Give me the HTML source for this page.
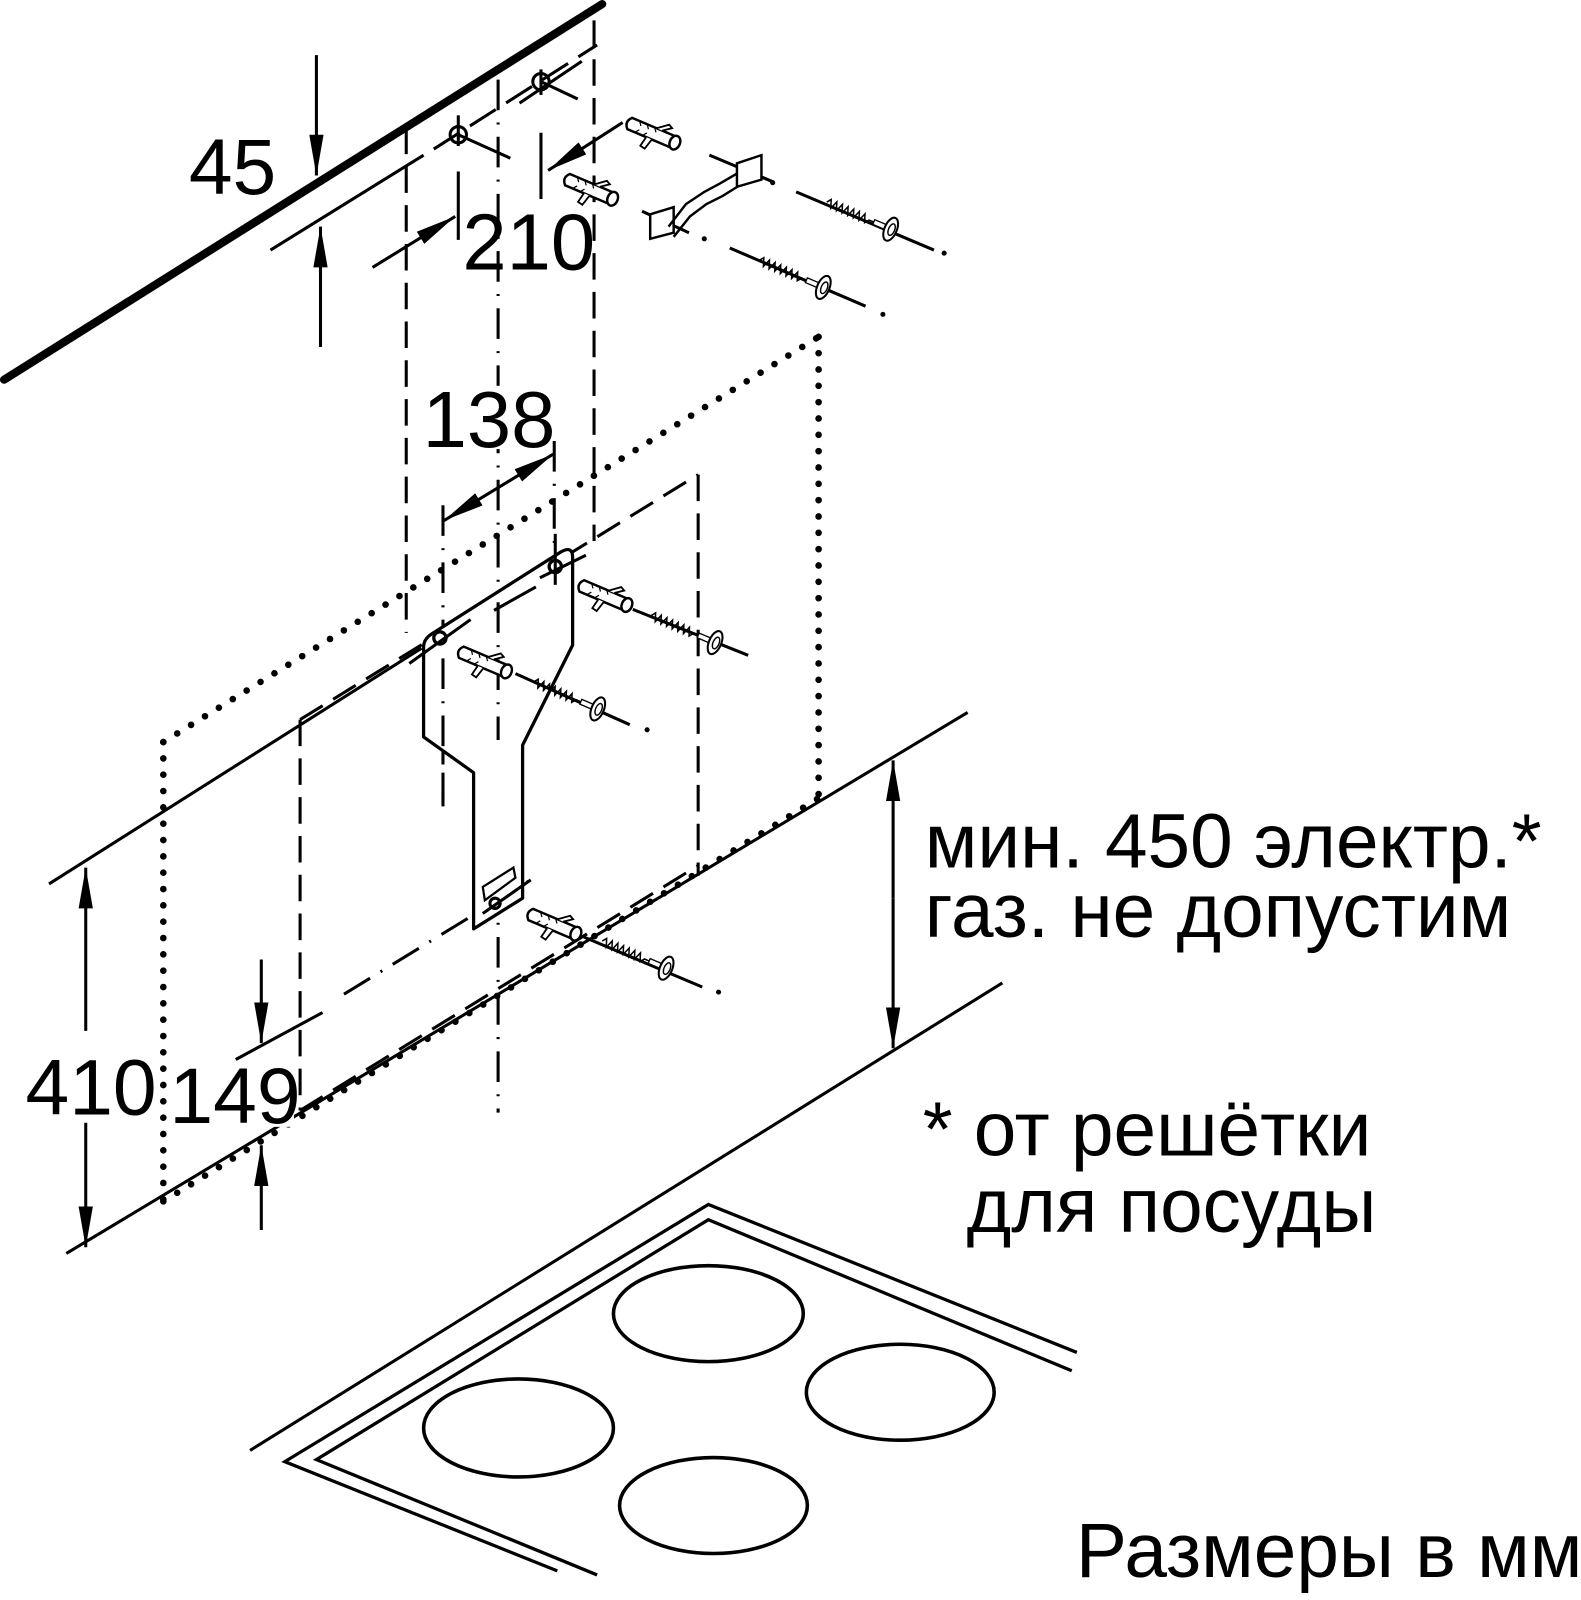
<!DOCTYPE html>
<html><head><meta charset="utf-8"><style>
html,body{margin:0;padding:0;background:#fff;}
svg{display:block;}
text{font-family:"Liberation Sans",Arial,sans-serif;fill:#000;}
</style></head><body>
<svg width="1581" height="1600" viewBox="0 0 1581 1600" xmlns="http://www.w3.org/2000/svg">
<defs>
<marker id="ah" viewBox="0 0 40 14" refX="40" refY="7" markerWidth="40" markerHeight="14" markerUnits="userSpaceOnUse" orient="auto"><path d="M0,0 L40,7 L0,14 Z" fill="#000"/></marker>
<marker id="ahs" viewBox="0 0 40 14" refX="0" refY="7" markerWidth="40" markerHeight="14" markerUnits="userSpaceOnUse" orient="auto"><path d="M40,0 L0,7 L40,14 Z" fill="#000"/></marker>
<g id="anchor">
<path d="M0,-6 L46,-6 L46,6 L0,6 Q-6,0 0,-6 Z" fill="#fff" stroke="#000" stroke-width="2.4"/>
<path d="M8,-6 L11,-2 M16,-6 L19,-2 M24,-6 L27,-2 M8,6 L11,2 M16,6 L19,2" stroke="#000" stroke-width="1.2"/>
<path d="M26,-6 L36,-14 L40,-12 L32,-6 M20,6 L18,16 L23,17 L26,6" fill="#fff" stroke="#000" stroke-width="1.8"/>
<ellipse cx="48" cy="0" rx="5" ry="7" fill="#fff" stroke="#000" stroke-width="2.4"/>
</g>
<g id="thread"><path d="M0,0 l3,-4 l3,8 l3,-8 l3,8 l3,-8 l3,8 l3,-8 l3,8 l3,-8 l3,8 l3,-8 l3,8 l3,-8 l3,8 l3,-4 L52,0" fill="none" stroke="#000" stroke-width="1.5"/>
<rect x="50" y="-2.5" width="14" height="5" fill="#fff" stroke="#000" stroke-width="1.3"/>
<ellipse cx="68" cy="0" rx="6" ry="12" fill="#fff" stroke="#000" stroke-width="2"/>
<ellipse cx="69" cy="0" rx="3" ry="6" fill="#fff" stroke="#000" stroke-width="1.4"/>
</g>
</defs>
<g transform="scale(1.0207)">
<line x1="4" y1="372" x2="590" y2="4" stroke="#000" stroke-width="8" stroke-linecap="round"/>
<line x1="265" y1="245" x2="415" y2="152" stroke="#000" stroke-width="3"/>
<line x1="425" y1="146" x2="585" y2="44" stroke="#000" stroke-width="3" stroke-dasharray="30 12"/>
<line x1="509" y1="101" x2="570" y2="60" stroke="#000" stroke-width="3"/>
<circle cx="449" cy="132" r="8" fill="none" stroke="#000" stroke-width="3"/>
<circle cx="530" cy="80" r="8" fill="none" stroke="#000" stroke-width="3"/>
<line x1="449" y1="132" x2="500" y2="155" stroke="#000" stroke-width="3"/>
<line x1="530" y1="80" x2="566" y2="97" stroke="#000" stroke-width="3"/>
<line x1="449" y1="113" x2="449" y2="143" stroke="#000" stroke-width="3"/>
<line x1="530" y1="68" x2="530" y2="93" stroke="#000" stroke-width="3"/>
<line x1="449" y1="168" x2="449" y2="235" stroke="#000" stroke-width="3"/>
<line x1="530" y1="130" x2="530" y2="195" stroke="#000" stroke-width="3"/>

<line x1="310" y1="54" x2="310" y2="172" stroke="#000" stroke-width="3" marker-end="url(#ah)"/>
<line x1="314" y1="340" x2="314" y2="222" stroke="#000" stroke-width="3" marker-end="url(#ah)"/>
<text x="185" y="190" font-size="77">45</text>

<line x1="365" y1="262" x2="446" y2="212" stroke="#000" stroke-width="3" marker-end="url(#ah)"/>
<line x1="610" y1="120" x2="537" y2="167" stroke="#000" stroke-width="3" marker-end="url(#ah)"/>
<rect x="455" y="206" width="122" height="60" fill="#fff"/>
<text x="453" y="264" font-size="78">210</text>

<line x1="398" y1="125" x2="398" y2="620" stroke="#000" stroke-width="3" stroke-dasharray="26 12"/>
<line x1="582" y1="20" x2="582" y2="530" stroke="#000" stroke-width="3" stroke-dasharray="26 12"/>
<line x1="488" y1="78" x2="488" y2="1090" stroke="#000" stroke-width="3" stroke-dasharray="30 12 2 12"/>
<line x1="434" y1="495" x2="434" y2="790" stroke="#000" stroke-width="3" stroke-dasharray="30 12 2 12"/>
<line x1="543" y1="432" x2="543" y2="590" stroke="#000" stroke-width="3" stroke-dasharray="30 12 2 12"/>

<rect x="412" y="378" width="125" height="62" fill="#fff"/>
<text x="414" y="438" font-size="78">138</text>
<line x1="435" y1="510" x2="542" y2="445" stroke="#000" stroke-width="3" marker-start="url(#ahs)" marker-end="url(#ah)"/>

<g stroke="#000" stroke-width="6.5" stroke-linecap="round" stroke-dasharray="0 16" fill="none">
<line x1="160" y1="727" x2="802" y2="330"/>
<line x1="802" y1="330" x2="802" y2="782"/>
<line x1="160" y1="727" x2="160" y2="1177"/>
<line x1="160" y1="1177" x2="802" y2="782"/>
</g>
<g stroke="#000" stroke-width="3" stroke-dasharray="26 12" fill="none">
<line x1="294" y1="705" x2="684" y2="465"/>
<line x1="684" y1="465" x2="684" y2="858"/>
<line x1="294" y1="705" x2="294" y2="1088"/>
<line x1="294" y1="1088" x2="684" y2="848"/>
</g>

<line x1="48" y1="866" x2="413" y2="635" stroke="#000" stroke-width="3"/>
<line x1="948" y1="698" x2="65" y2="1228" stroke="#000" stroke-width="3"/>
<line x1="982" y1="963" x2="245" y2="1421" stroke="#000" stroke-width="3"/>

<line x1="231" y1="1038" x2="316" y2="992" stroke="#000" stroke-width="3"/>
<line x1="337" y1="974" x2="520" y2="862" stroke="#000" stroke-width="3" stroke-dasharray="30 12 2 12"/>

<path d="M415,722 L415,634 Q415,626 423,621 L549,541 Q561,534 561,546 L561,632 L512,730 L512,880 L464,910 L464,757 Z" fill="#fff" stroke="#000" stroke-width="3.2" stroke-linejoin="round"/>
<line x1="484" y1="598" x2="525" y2="575" stroke="#000" stroke-width="3"/>
<line x1="488" y1="590" x2="488" y2="725" stroke="#000" stroke-width="3" stroke-dasharray="30 12 2 12"/>
<line x1="434" y1="645" x2="434" y2="785" stroke="#000" stroke-width="3" stroke-dasharray="30 12 2 12"/>
<path d="M473,869 L503,850 L505,860 L475,882 Z" fill="#fff" stroke="#000" stroke-width="2.2"/>
<circle cx="485" cy="885" r="5" fill="none" stroke="#000" stroke-width="3"/>
<line x1="473" y1="895" x2="520" y2="862" stroke="#000" stroke-width="3"/>
<circle cx="544" cy="555" r="6" fill="none" stroke="#000" stroke-width="3.2"/>
<line x1="529" y1="566" x2="574" y2="544" stroke="#000" stroke-width="3"/>
<line x1="544" y1="523" x2="544" y2="573" stroke="#000" stroke-width="3"/>
<circle cx="431" cy="625" r="6" fill="none" stroke="#000" stroke-width="3.2"/>
<line x1="401" y1="650" x2="461" y2="607" stroke="#000" stroke-width="3"/>

<g stroke="#000" stroke-width="3">
<line x1="780" y1="188" x2="915" y2="245"/>
<line x1="715" y1="243" x2="848" y2="300"/>
<line x1="620" y1="597" x2="733" y2="642"/>
<line x1="505" y1="660" x2="617" y2="710"/>
<line x1="572" y1="918" x2="688" y2="967"/>
<line x1="695" y1="152" x2="757" y2="178"/>
<line x1="629" y1="207" x2="675" y2="228"/>
</g>
<g fill="#000">
<circle cx="757" cy="179" r="2.5"/><circle cx="690" cy="234" r="2.5"/><circle cx="865" cy="308" r="2.5"/>
<circle cx="634" cy="715" r="2.5"/><circle cx="704" cy="972" r="2.5"/><circle cx="925" cy="248" r="2.5"/>
</g>
<use href="#anchor" transform="translate(617,121) rotate(23)"/>
<use href="#anchor" transform="translate(556,176) rotate(23)"/>
<use href="#anchor" transform="translate(570,574) rotate(23)"/>
<use href="#anchor" transform="translate(452,639) rotate(23)"/>
<use href="#anchor" transform="translate(520,896) rotate(23)"/>
<use href="#thread" transform="translate(810,198) rotate(23)"/>
<use href="#thread" transform="translate(744,255) rotate(23)"/>
<use href="#thread" transform="translate(638,603) rotate(23)"/>
<use href="#thread" transform="translate(523,668) rotate(23)"/>
<use href="#thread" transform="translate(590,922) rotate(23)"/>

<path d="M637,210 L660,203 L660,228 L637,234 Z M722,160 L746,152 L746,176 L722,183 Z" fill="#fff" stroke="#000" stroke-width="2.4"/>
<path d="M655,222 L672,200 L690,188 L705,180 L722,170 M660,232 L676,212 L692,200 L708,192 L724,182" fill="none" stroke="#000" stroke-width="2.4"/>

<line x1="84" y1="1010" x2="84" y2="850" stroke="#000" stroke-width="3" marker-end="url(#ah)"/>
<line x1="84" y1="1100" x2="84" y2="1222" stroke="#000" stroke-width="3" marker-end="url(#ah)"/>
<text x="25" y="1092" font-size="77">410</text>
<line x1="256" y1="940" x2="256" y2="1022" stroke="#000" stroke-width="3" marker-end="url(#ah)"/>
<line x1="256" y1="1205" x2="256" y2="1122" stroke="#000" stroke-width="3" marker-end="url(#ah)"/>
<rect x="166" y="1042" width="122" height="62" fill="#fff"/>
<text x="166" y="1100" font-size="77">149</text>

<line x1="875" y1="880" x2="875" y2="745" stroke="#000" stroke-width="3" marker-end="url(#ah)"/>
<line x1="875" y1="880" x2="875" y2="1027" stroke="#000" stroke-width="3" marker-end="url(#ah)"/>
<text x="906" y="850" font-size="75">мин. 450 электр.*</text>
<text x="906" y="918" font-size="75">газ. не допустим</text>
<text x="904" y="1132" font-size="75">* от решётки</text>
<text x="947" y="1207" font-size="75">для посуды</text>

<polyline points="546,1539 279,1432 694,1180 1055,1325" fill="none" stroke="#000" stroke-width="3.2"/>
<polyline points="585,1543 310,1430 694,1195 1050,1343" fill="none" stroke="#000" stroke-width="3.2"/>
<g fill="none" stroke="#000" stroke-width="3.5">
<ellipse cx="694" cy="1287" rx="93" ry="47"/>
<ellipse cx="882" cy="1364" rx="92" ry="47"/>
<ellipse cx="508" cy="1399" rx="93" ry="48"/>
<ellipse cx="699" cy="1475" rx="92" ry="47"/>
</g>
<text x="1054" y="1545" font-size="75">Размеры в мм</text>
</g>
</svg>
</body></html>
